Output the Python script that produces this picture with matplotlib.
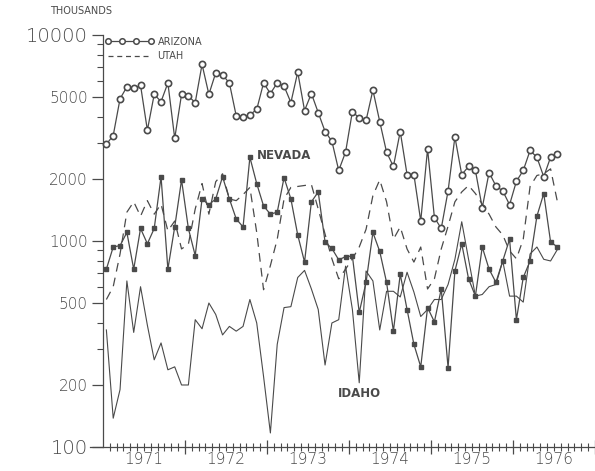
import numpy as np
import matplotlib.pyplot as plt
import matplotlib.ticker as mticker
from matplotlib.lines import Line2D

# monthly values (thousands), Jan 1971 - Jul 1976
arizona = [2950, 3250, 4900, 5600, 5500, 5700, 3450, 5150, 4750, 5850,
           3150, 5150, 5050, 4700, 7200, 5150, 6550, 6400, 5850, 4050,
           4000, 4100, 4350, 5850, 5200, 5850, 5650, 4700, 6600, 4300,
           5200, 4200, 3400, 3050, 2200, 2700, 4250, 3950, 3850, 5400,
           3800, 2700, 2300, 3400, 2100, 2100, 1250, 2800, 1300, 1150,
           1750, 3200, 2100, 2300, 2200, 1450, 2150, 1850, 1750, 1500,
           1950, 2200, 2750, 2550, 2050, 2550, 2650]
nevada = [730, 935, 950, 1100, 730, 1150, 970, 1150, 2050, 730,
          1170, 1980, 1150, 850, 1600, 1500, 1600, 2050, 1600, 1280,
          1170, 2550, 1900, 1480, 1350, 1380, 2030, 1600, 1070, 790,
          1550, 1730, 990, 920, 810, 840, 845, 450, 630, 1100,
          890, 630, 365, 690, 465, 315, 245, 475, 405, 585,
          243, 715, 970, 655, 540, 935, 730, 630, 800, 1020,
          415, 665, 800, 1320, 1700, 990, 935]
idaho = [370, 138, 190, 640, 360, 600, 390, 265, 320, 237,
         245, 200, 200, 415, 375, 500, 440, 350, 385, 365,
         385, 520, 400, 220, 117, 315, 475, 480, 665, 720,
         585, 465, 250, 400, 415, 755, 465, 205, 715, 640,
         370, 570, 570, 535, 705, 565, 430, 465, 520, 520,
         615, 815, 1240, 815, 540, 550, 600, 615, 800, 540,
         540, 505, 865, 935, 815, 800, 910]
utah = [520, 600, 865, 1380, 1550, 1320, 1570, 1350, 1510, 1120,
        1250, 915, 965, 1430, 1900, 1350, 1940, 2120, 1600, 1570,
        1680, 1820, 1100, 580, 760, 1020, 1600, 1820, 1840, 1860,
        1880, 1430, 1080, 820, 655, 730, 820, 935, 1140, 1660,
        1980, 1550, 1020, 1170, 915, 790, 935, 585, 655, 915,
        1180, 1550, 1730, 1860, 1700, 1510, 1350, 1170, 1070, 895,
        820, 1020, 1840, 2080, 2120, 2240, 1550]
years = [1971, 1972, 1973, 1974, 1975, 1976]
ylabels = [100, 200, 500, 1000, 2000, 5000, 10000]

n = len(arizona)
t = 1971 + (np.arange(n) + 0.5) / 12

ink = '#4a4a4a'
fig = plt.figure(figsize=(5.95, 4.71), dpi=100)
ax = fig.add_axes([90/595, 1 - 447/471, 505/595, 412/471])
ax.set_yscale('log')
ax.set_ylim(100, 10000)
ax.set_xlim(1970.842, 1976.96)

ax.plot(t, arizona, color=ink, lw=0.9, marker='o', ms=4.5, mfc='white', mec=ink, mew=1.2)
ax.plot(t, utah, color=ink, lw=0.9, ls=(0, (7, 5)))
ax.plot(t, nevada, color=ink, lw=0.9, marker='s', ms=2.5, mfc=ink, mec=ink)
ax.plot(t, idaho, color=ink, lw=0.8)

for s in ['top', 'right']:
    ax.spines[s].set_visible(False)
ax.spines['left'].set_position(('data', 1971))
ax.spines['left'].set_color(ink)
ax.spines['bottom'].set_color(ink)
ax.spines['left'].set_linewidth(0.9)
ax.spines['bottom'].set_linewidth(0.9)

ax.yaxis.set_major_locator(mticker.FixedLocator(ylabels))
ax.yaxis.set_major_formatter(mticker.FuncFormatter(lambda v, p: '%d' % v))
ax.yaxis.set_minor_locator(mticker.LogLocator(subs=np.arange(2, 10)))
ax.yaxis.set_minor_formatter(mticker.NullFormatter())
ax.tick_params(axis='y', which='major', direction='out', length=8, width=0.9,
               color=ink, labelcolor=ink, labelsize=11, pad=3)
ax.tick_params(axis='y', which='minor', direction='out', length=4, width=0.8, color=ink)
for lab in ax.get_yticklabels():
    lab.set_fontweight('light')
    if lab.get_text() in ('10000', '100'):
        lab.set_fontsize(14)

ax.set_xticks(years[1:] + [1977])
months = [1971 + k/12 for k in range(1, 72) if k % 12 != 0]
ax.set_xticks(months, minor=True)
ax.tick_params(axis='x', which='major', direction='inout', length=10, width=0.9,
               color=ink, labelbottom=False)
ax.tick_params(axis='x', which='minor', direction='inout', length=6, width=0.8, color=ink)
for y in years:
    ax.text(y + 0.5, -0.03, str(y), transform=ax.get_xaxis_transform(),
            ha='center', va='center', fontsize=11, color=ink, fontweight='light')

ax.text(1972.88, 2600, 'NEVADA', ha='left', va='center', fontsize=8.5,
        fontweight='bold', color=ink)
ax.text(1974.13, 181, 'IDAHO', ha='center', va='center', fontsize=8.5,
        fontweight='bold', color=ink)
fig.text(81/595, 1 - 11/471, 'THOUSANDS', ha='center', va='center', fontsize=7, color=ink)

handles = [Line2D([], [], color=ink, lw=0.9, marker='o', ms=4, mfc='white', mec=ink, mew=1.1),
           Line2D([], [], color=ink, lw=0.9, ls=(0, (4, 3)))]
ax.legend(handles, ['ARIZONA', 'UTAH'], loc='upper left', bbox_to_anchor=(0.02, 1.008),
          frameon=False, numpoints=4, handlelength=5, handletextpad=0.4,
          labelspacing=0.45, fontsize=7, labelcolor=ink, borderpad=0)

fig.savefig('out.png', dpi=100)
